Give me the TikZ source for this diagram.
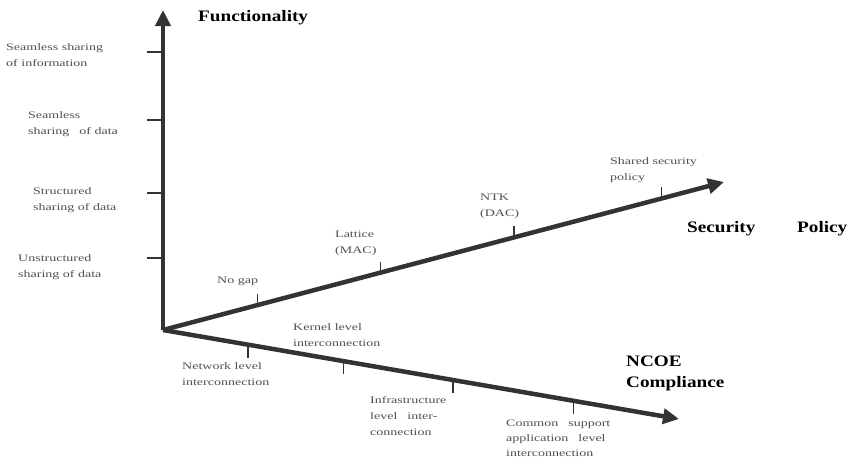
\documentclass[tikz,border=0pt]{standalone}
\usepackage{fontspec}
\setmainfont{Liberation Serif}
\newfontfamily\labfont[FakeStretch=1.4]{Liberation Serif}
\newfontfamily\ttlfont[FakeStretch=1.2]{Liberation Serif}
\usetikzlibrary{arrows.meta,calc}
\definecolor{axisc}{HTML}{333333}
\definecolor{labc}{HTML}{505050}
\begin{document}
\begin{tikzpicture}[x=1pt,y=-1pt,
  axis/.style={draw=axisc,line width=4.5pt,-{Triangle[length=16pt,width=15pt]}},
  tick/.style={draw=axisc,line width=1.4pt},
  lab/.style={text=labc,font=\labfont\fontsize{10}{16}\selectfont,align=left,inner sep=0pt},
  ttl/.style={text=black,font=\ttlfont\fontsize{16}{21}\bfseries\selectfont,align=left,inner sep=0pt}]
\useasboundingbox (0,0) rectangle (851,466);
\coordinate (O) at (163,330);
\coordinate (F) at (163,10);
\coordinate (S) at (724,182);
\coordinate (N) at (679,419);
\draw[axis] (O) -- (F);
\draw[axis] (O) -- (S);
\draw[axis] (O) -- (N);
% functionality ticks
\foreach \n/\y in {f1/52,f2/120,f3/193,f4/258}{
  \coordinate (\n) at (163,\y);
  \coordinate (\n l) at (147,\y);
  \draw[tick] (\n l) -- (\n);
}
% security ticks
\foreach \n/\t in {s1/0.168,s2/0.388,s3/0.626,s4/0.889}{
  \coordinate (\n) at ($(O)!\t!(S)$);
}
% ncoe ticks
\foreach \n/\t in {n1/0.165,n2/0.350,n3/0.562,n4/0.796}{
  \coordinate (\n) at ($(O)!\t!(N)$);
}
\foreach \n in {s1,s2,s3,s4}{
  \coordinate (\n u) at ($(\n)+(0,-11)$);
  \draw[tick] (\n) -- (\n u);
}
\foreach \n in {n1,n2,n3,n4}{
  \coordinate (\n d) at ($(\n)+(0,13)$);
  \draw[tick] (\n) -- (\n d);
}
% titles
\node[ttl,anchor=west] (tF) at (198,18) {Functionality};
\node[ttl,anchor=west] (tS1) at (687,229) {Security};
\node[ttl,anchor=west] (tS2) at (797,229) {Policy};
\node[ttl,anchor=north west] (tN) at (626,356) {NCOE\\Compliance};
% functionality labels
\node[lab,anchor=north west] (lf1) at (6,43) {Seamless sharing\\of information};
\node[lab,anchor=north west] (lf2) at (28,111) {Seamless\\sharing\quad of data};
\node[lab,anchor=north west] (lf3) at (33,187) {Structured\\sharing of data};
\node[lab,anchor=north west] (lf4) at (18,254) {Unstructured\\sharing of data};
% security labels
\node[lab,anchor=north west] (ls1) at (217,277) {No gap};
\node[lab,anchor=north west] (ls2) at (335,231) {Lattice\\(MAC)};
\node[lab,anchor=north west] (ls3) at (480,194) {NTK\\(DAC)};
\node[lab,anchor=north west] (ls4) at (610,157) {Shared security\\policy};
% ncoe labels
\node[lab,anchor=north west] (ln1) at (182,362) {Network level\\interconnection};
\node[lab,anchor=north west] (ln2) at (293,323) {Kernel level\\interconnection};
\node[lab,anchor=north west] (ln3) at (370,396) {Infrastructure\\level\quad inter-\\connection};
\node[lab,anchor=north west,font=\labfont\fontsize{10}{15}\selectfont] (ln4) at (506,420) {Common\quad support\\application\quad level\\interconnection};
\end{tikzpicture}
\end{document}
